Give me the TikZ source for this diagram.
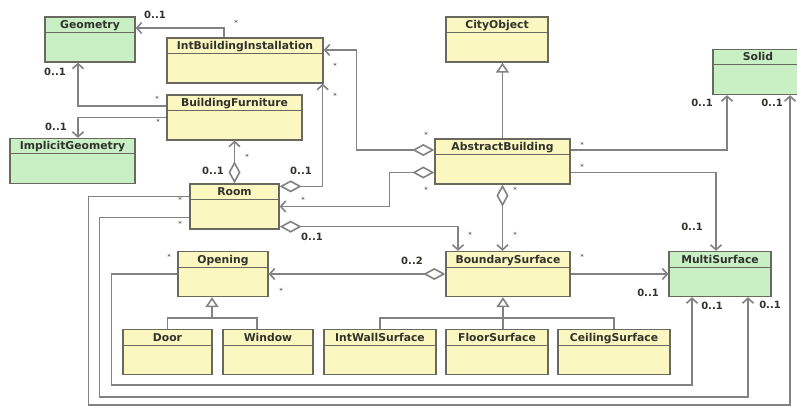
\documentclass[tikz,border=0pt]{standalone}
\usepackage{fontspec}
\setmainfont{DejaVu Sans}
\usetikzlibrary{arrows.meta}

\definecolor{clsyellow}{RGB}{251,247,192}
\definecolor{clsgreen}{RGB}{200,240,196}
\definecolor{clsborder}{RGB}{105,105,95}
\definecolor{linkgray}{RGB}{130,130,130}
\definecolor{textgray}{RGB}{50,50,45}

\tikzset{%
  >={Straight Barb[length=5pt,width=11pt]},
  cls/.style={draw=clsborder, line width=1.3pt, fill=#1, minimum height=45pt,
    inner xsep=2pt, inner ysep=3pt, text height=8.5pt, text depth=30.5pt,
    font=\fontsize{10.8}{12}\selectfont\bfseries, text=textgray,
    path picture={\draw[clsborder, line width=1pt]
      ([yshift=-15.5pt]path picture bounding box.north west) --
      ([yshift=-15.5pt]path picture bounding box.north east);}},
  link/.style={draw=linkgray, line width=1.6pt},
  assoc/.style={link, ->},
  agg/.style={link, arrows={Diamond[open,length=22pt,width=12pt]-Straight Barb[length=5pt,width=11pt]}},
  gen/.style={link, arrows={-Triangle[open,length=10pt,width=13pt]}},
  mult/.style={inner sep=0pt, text=textgray, font=\fontsize{10}{11}\selectfont\bfseries},
  star/.style={inner sep=0pt, text=textgray, font=\fontsize{7}{8}\selectfont}
}

\begin{document}
\begin{tikzpicture}[x=1pt, y=-1pt]
  \fill[white] (0,0) rectangle (797,406);
  \useasboundingbox (0,0) rectangle (797,406);

  % classes
  \foreach \n/\t/\x/\y/\w/\c in
    { geometry/Geometry/90/39.5/90/clsgreen,
      ibi/IntBuildingInstallation/245/60.5/156/clsyellow,
      furniture/BuildingFurniture/234.5/117.5/135/clsyellow,
      implicit/ImplicitGeometry/72.5/161/125/clsgreen,
      room/Room/234.5/206.5/89/clsyellow,
      cityobj/CityObject/497/39.5/102/clsyellow,
      abstract/AbstractBuilding/502.5/161.5/135/clsyellow,
      solid/Solid/758/72/90/clsgreen,
      opening/Opening/223/274/90/clsyellow,
      boundary/BoundarySurface/508/274/124/clsyellow,
      multi/MultiSurface/720/274/102/clsgreen,
      door/Door/167.5/352/89/clsyellow,
      window/Window/268/352/90/clsyellow,
      intwall/IntWallSurface/380/352/112/clsyellow,
      floor/FloorSurface/497/352/102/clsyellow,
      ceiling/CeilingSurface/614/352/112/clsyellow}
    \node[cls=\c, minimum width=\w pt] (\n) at (\x,\y) {\t};

  % associations
  \draw[assoc] ([xshift=-21pt]ibi.north) |- ([yshift=11.5pt]geometry.east);
  \draw[assoc] ([yshift=11.5pt]furniture.west) -| ([xshift=-12pt]geometry.south);
  \draw[assoc] (furniture.west) -| ([xshift=5.5pt]implicit.north);
  \draw[agg] (room.north) -- (furniture.south);
  \draw[agg] ([yshift=-3pt]room.north east) -| ([xshift=-1pt]ibi.south east);
  \draw[agg] ([yshift=11.5pt]abstract.west) -- ++(-78,0) |- ([yshift=10.5pt]ibi.east);
  \draw[agg] ([yshift=-11pt]abstract.west) -- ++(-45,0) |- (room.east);
  \draw[agg] ([yshift=3pt]room.south east) -| ([xshift=-50pt]boundary.north);
  \draw[agg] (abstract.south) -- (abstract.south |- boundary.north);
  \draw[assoc] ([yshift=11.5pt]abstract.east) -| ([xshift=-31pt]solid.south);
  \draw[assoc] ([yshift=-11pt]abstract.east) -| ([xshift=-4pt]multi.north);
  \draw[assoc] (boundary.east) -- (multi.west);
  \draw[agg] (boundary.west) -- (opening.east);
  \draw[assoc] (opening.west) -| ++(-66,111) -| ([xshift=-28pt]multi.south);
  \draw[assoc] ([yshift=-11pt]room.west) -| ++(-90,179.5) -| ([xshift=28pt]multi.south);
  \draw[assoc] ([yshift=10pt]room.west) -| ++(-101,208.5) -| ([xshift=32pt]solid.south);

  % generalizations
  \draw[gen] (abstract.north) -- (abstract.north |- cityobj.south);
  \coordinate (dwjoin) at ([yshift=11pt]door.north);
  \coordinate (opfoot) at ([xshift=-11pt]opening.south);
  \coordinate (winstem) at ([xshift=-11pt]window.north);
  \draw[link] (door.north) |- (dwjoin -| winstem) -- (winstem);
  \draw[gen] (opfoot |- dwjoin) -- (opfoot);
  \coordinate (bsjoin) at ([yshift=11pt]intwall.north);
  \coordinate (bsfoot) at ([xshift=-5pt]boundary.south);
  \draw[link] (intwall.north) |- (bsjoin -| ceiling.north) -- (ceiling.north);
  \draw[gen] (bsfoot |- floor.north) -- (bsfoot);

  % multiplicities
  \foreach \t/\x/\y [count=\i] in
    { 0..1/155/15, 0..1/55/72, 0..1/56/127, 0..1/213/171, 0..1/301/171,
      0..1/312/237, 0..2/412/261, 0..1/692/227, 0..1/648/293,
      0..1/712/306, 0..1/770/305, 0..1/702/103, 0..1/772/103}
    \node[mult] (mult\i) at (\x,\y) {\t};
  \foreach \x/\y [count=\i] in
    { 236/23, 157/99, 158/122, 335/66, 335/96, 247/157, 303/200,
      426/135, 426/190, 180/200, 180/224, 169/257, 281/291,
      470/235, 515/190, 515/235, 582/145, 582/167, 582/257}
    \node[star] (star\i) at (\x,\y) {*};
\end{tikzpicture}
\end{document}
